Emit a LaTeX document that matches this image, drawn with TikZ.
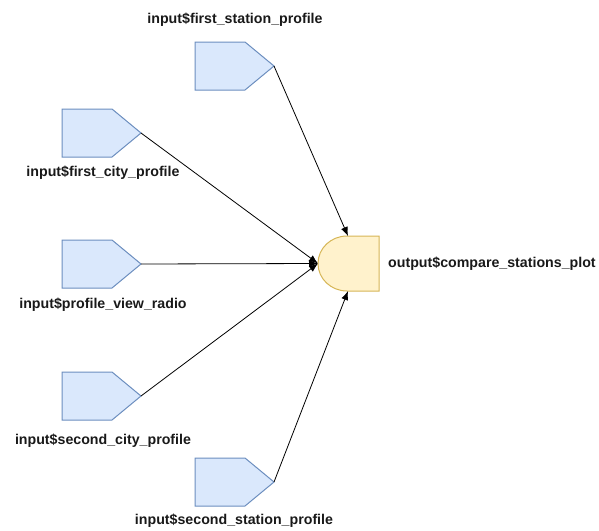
\documentclass[tikz,border=0pt]{standalone}
\usepackage{fontspec}
\setmainfont{Liberation Sans}
\usetikzlibrary{arrows.meta}
\definecolor{inFill}{HTML}{DAE8FC}
\definecolor{inLine}{HTML}{6C8EBF}
\definecolor{outFill}{HTML}{FFF2CC}
\definecolor{outLine}{HTML}{D6B656}
\tikzset{
  inshape/.style={fill=inFill,draw=inLine,line width=1pt,line join=miter},
  outshape/.style={fill=outFill,draw=outLine,line width=1pt},
  lbl/.style={font=\bfseries\fontsize{14.2}{16}\selectfont,text=black!90,inner sep=0pt},
  conn/.style={draw=black,line width=0.8pt,-{Latex[length=9pt,width=7pt]}}
}
\begin{document}
\begin{tikzpicture}[x=1pt,y=-1pt]
\useasboundingbox (0,0) rectangle (599,530);
% pentagons: left x, top y
\foreach \nm/\lx/\ty in {fs/195/42, fc/62/109, pv/62/240, sc/62/372, ss/195/458}{
  \draw[inshape] (\lx,\ty) -- ++(50,0) -- ++(29,24) -- ++(-29,24) -- ++(-50,0) -- cycle;
  \coordinate (\nm) at ({\lx+79},{\ty+24});
}
% output shape
\draw[outshape] (379,236) -- (347,236) arc[start angle=270,end angle=90,x radius=29,y radius=27.5] -- (379,291) -- cycle;
\coordinate (outL) at (318,263.5);
\coordinate (outT) at (348,236);
\coordinate (outB) at (348,291);
% labels
\node[lbl] (lfs) at (235,20) {input\$first\_station\_profile};
\node[lbl] (lfc) at (103,173) {input\$first\_city\_profile};
\node[lbl] (lpv) at (103,305) {input\$profile\_view\_radio};
\node[lbl] (lsc) at (103,441) {input\$second\_city\_profile};
\node[lbl] (lss) at (234,521) {input\$second\_station\_profile};
\node[lbl,anchor=west] (lout) at (388,264) {output\$compare\_stations\_plot};
% connectors
\draw[conn] (fs) -- (outT);
\draw[conn] (fc) -- (outL);
\draw[conn] (pv) -- (outL);
\draw[conn] (sc) -- (outL);
\draw[conn] (ss) -- (outB);
\end{tikzpicture}
\end{document}
